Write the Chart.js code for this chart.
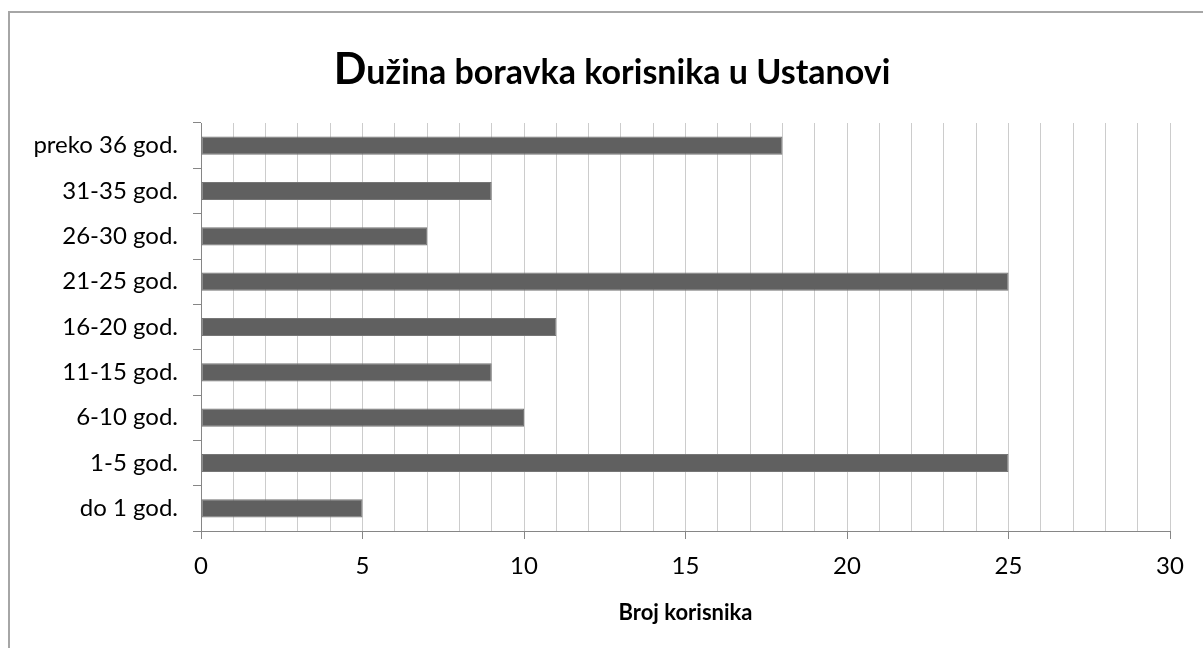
<!DOCTYPE html>
<html>
<head>
<meta charset="utf-8">
<script src="https://cdn.jsdelivr.net/npm/chart.js@4.4.0/dist/chart.umd.min.js"></script>
<style>
  html, body { margin: 0; padding: 0; background: #fff; overflow: hidden; }
  #wrap { position: relative; width: 1203px; height: 648px; }
  #okvir { position: absolute; left: 8px; top: 11px; width: 1400px; height: 800px; border: 2px solid #a6a6a6; box-sizing: border-box; }
  canvas { position: absolute; left: 0; top: 0; }
</style>
</head>
<body>
<div id="wrap">
  <div id="okvir"></div>
  <canvas id="grafikon" width="1203" height="648"></canvas>
</div>
<script>
// kategorije odozgo prema dolje
const kategorije = ['preko 36 god.', '31-35 god.', '26-30 god.', '21-25 god.', '16-20 god.',
  '11-15 god.', '6-10 god.', '1-5 god.', 'do 1 god.'];
const brojKorisnika = [18, 9, 7, 25, 11, 9, 10, 25, 5];
const xMin = 0;
const xMax = 30;
const naslov = 'Dužina boravka korisnika u Ustanovi';
const nazivOsiX = 'Broj korisnika';

const font = 'Lato, "Open Sans", sans-serif';
const sivaOs = '#868686';

// naslov sa vecim prvim slovom, kao u originalu
const naslovPlugin = {
  id: 'naslov',
  afterDraw(chart) {
    const ctx = chart.ctx;
    ctx.save();
    ctx.fillStyle = '#000';
    ctx.textBaseline = 'alphabetic';
    const prvo = naslov.charAt(0);
    const ostalo = naslov.slice(1);
    ctx.font = 'bold 43px ' + font;
    const w1 = ctx.measureText(prvo).width;
    ctx.font = 'bold 34px ' + font;
    const w2 = ctx.measureText(ostalo).width;
    let x = 612 - (w1 + w2) / 2;
    ctx.font = 'bold 43px ' + font;
    ctx.fillText(prvo, x, 84);
    ctx.font = 'bold 34px ' + font;
    ctx.fillText(ostalo, x + w1, 84);
    ctx.restore();
  }
};

const chart = new Chart(document.getElementById('grafikon'), {
  type: 'bar',
  data: {
    labels: kategorije,
    datasets: [{
      data: brojKorisnika,
      backgroundColor: '#606060',
      borderColor: '#767676',
      borderWidth: 1,
      borderSkipped: false,
      barPercentage: 0.4,
      categoryPercentage: 1
    }]
  },
  options: {
    indexAxis: 'y',
    responsive: false,
    animation: false,
    layout: { padding: { top: 123, right: 33, bottom: 0, left: 0 } },
    plugins: {
      legend: { display: false },
      tooltip: { enabled: false }
    },
    scales: {
      x: {
        min: xMin,
        max: xMax,
        afterFit: (s) => { s.height = 117; },
        ticks: {
          stepSize: 1,
          autoSkip: false,
          maxRotation: 0,
          padding: 13,
          color: '#000',
          font: { family: font, size: 24 },
          callback: (v) => (v % 5 === 0 ? v : '')
        },
        grid: {
          color: '#cccccc',
          tickLength: 8,
          tickColor: (c) => (c.tick && c.tick.value % 5 === 0 ? sivaOs : 'rgba(0,0,0,0)')
        },
        border: { color: sivaOs, width: 1 },
        title: {
          display: true,
          text: nazivOsiX,
          color: '#000',
          font: { family: font, size: 22, weight: 'bold' },
          padding: { top: 0, bottom: 22 }
        }
      },
      y: {
        afterFit: (s) => { s.width = 201; },
        ticks: {
          padding: 15,
          color: '#000',
          font: { family: font, size: 24 }
        },
        grid: {
          offset: true,
          drawOnChartArea: false,
          tickLength: 8,
          tickColor: sivaOs
        },
        border: { color: sivaOs, width: 1 }
      }
    }
  },
  plugins: [naslovPlugin]
});
</script>
</body>
</html>
